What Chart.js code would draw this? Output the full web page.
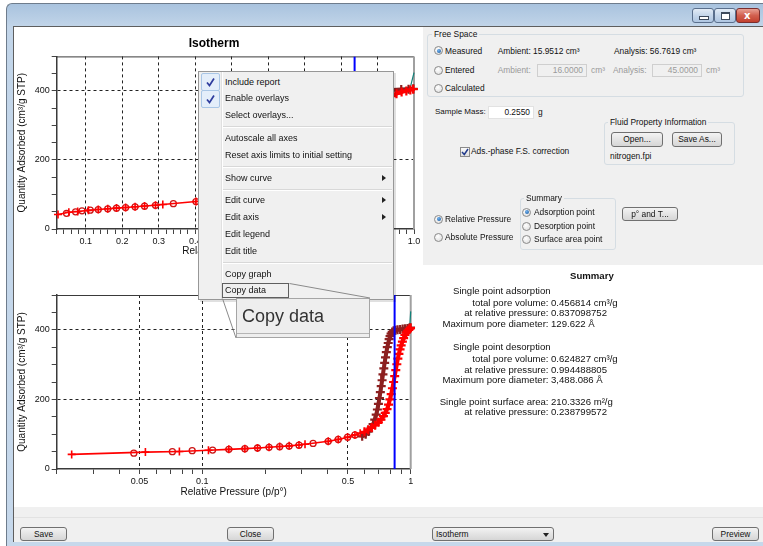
<!DOCTYPE html>
<html>
<head>
<meta charset="utf-8">
<script src="https://cdn.jsdelivr.net/npm/chart.js@4.4.1/dist/chart.umd.min.js"></script>
<style>
  html, body { margin: 0; padding: 0; width: 763px; height: 546px; overflow: hidden; background: #fff;
    font-family: "Liberation Sans", Arial, sans-serif; color: #111; }
  .a { position: absolute; }
  .t { position: absolute; white-space: nowrap; font-size: 8.4px; line-height: 10px; }
  .g { color: #9a9a9a; }
  .mi { position: absolute; left: 225px; white-space: nowrap; font-size: 9px; line-height: 12px; color: #111; }
  .sep { position: absolute; left: 223px; width: 169px; height: 1px; background: #d8d8d8; border-bottom: 1px solid #fff; }
  .arr { position: absolute; left: 382px; width: 0; height: 0; border-top: 3px solid transparent; border-bottom: 3px solid transparent; border-left: 4px solid #222; }
  .chk { position: absolute; left: 201px; width: 17px; height: 16px; border: 1px solid #a9c6e6; background: #e4eefa; border-radius: 2px; }
  .rad { position: absolute; width: 9px; height: 9px; border-radius: 50%; border: 1px solid #8a8a8a; box-sizing: border-box;
    background: radial-gradient(circle at 40% 35%, #ffffff, #d9d9d9); }
  .rad.on::after { content: ""; position: absolute; left: 1.5px; top: 1.5px; width: 4px; height: 4px; border-radius: 50%;
    background: radial-gradient(circle at 40% 35%, #6fb0ee, #15559a); }
  .grp { position: absolute; border: 1px solid #d5dde3; border-radius: 3px; }
  .btn { position: absolute; border: 1px solid #707070; border-radius: 3px; background: linear-gradient(#f3f3f3, #e4e4e4 50%, #d6d6d6);
    font-size: 8.4px; text-align: center; box-sizing: border-box; }
  .box { position: absolute; box-sizing: border-box; font-size: 8.4px; text-align: right; padding-right: 3px; }
  .s { position: absolute; white-space: nowrap; font-size: 9.6px; line-height: 11px; color: #111; }
  .sl { right: 214.5px; text-align: right; }
  .sv { left: 551px; }
  .wb { position: absolute; top: 8px; height: 13px; border: 1px solid #5a6f8c; border-radius: 3px;
    background: linear-gradient(#e3ecf6, #c5d6ea 50%, #aec6e1); }
</style>
</head>
<body>
<!-- window frame -->
<div class="a" style="left:6px;top:3px;width:757px;height:543px;background:linear-gradient(#a9c3de,#c2d5e9 23px,#c6d8eb);border-left:1px solid #6e7c8c;border-top:1px solid #6e7c8c;border-radius:6px 0 0 0;box-sizing:border-box"></div>
<div class="wb" style="left:692px;width:20px"><div class="a" style="left:6px;top:7px;width:8px;height:2px;background:#fff;border:1px solid #3d4a5c"></div></div>
<div class="wb" style="left:714px;width:20px"><div class="a" style="left:6px;top:3px;width:7px;height:5px;border:1px solid #3d4a5c;border-top-width:2px;background:#fff"></div></div>
<div class="wb" style="left:736px;width:22px;border-color:#7a2e2e;background:linear-gradient(#e8a093,#d2604f 50%,#c2402e)"><div class="a" style="left:7px;top:0px;color:#fff;font:bold 10px 'DejaVu Sans';line-height:13px">x</div></div>
<!-- client area -->
<div class="a" style="left:13px;top:26px;width:750px;height:516px;background:#fff;border-left:1px solid #5e5e5e;border-top:1px solid #5e5e5e;box-sizing:border-box"></div>

<canvas id="topChart" width="410" height="240" style="position:absolute;left:14px;top:27px"></canvas>
<canvas id="botChart" width="410" height="232" style="position:absolute;left:14px;top:275px"></canvas>

<!-- right panel -->
<div class="a" style="left:423px;top:27px;width:340px;height:238px;background:#f0f0f0"></div>
<div class="grp" style="left:427px;top:34px;width:315px;height:61px"></div>
<div class="t" style="left:432px;top:29px;background:#f0f0f0;padding:0 2px">Free Space</div>
<div class="rad on" style="left:434px;top:46px"></div><div class="t" style="left:445px;top:45.7px">Measured</div>
<div class="t" style="left:497.7px;top:45.7px">Ambient: 15.9512 cm³</div>
<div class="t" style="left:614px;top:45.7px">Analysis: 56.7619 cm³</div>
<div class="rad" style="left:434px;top:65.5px"></div><div class="t" style="left:445px;top:65.3px">Entered</div>
<div class="t g" style="left:497.7px;top:65.3px">Ambient:</div>
<div class="box g" style="left:537px;top:64px;width:50px;height:13px;border:1px solid #cfcfcf;line-height:11px">16.0000</div>
<div class="t g" style="left:591px;top:65.3px">cm³</div>
<div class="t g" style="left:613px;top:65.3px">Analysis:</div>
<div class="box g" style="left:652px;top:64px;width:50px;height:13px;border:1px solid #cfcfcf;line-height:11px">45.0000</div>
<div class="t g" style="left:706px;top:65.3px">cm³</div>
<div class="rad" style="left:434px;top:83.5px"></div><div class="t" style="left:445px;top:83.3px">Calculated</div>

<div class="t" style="left:435px;top:107.3px;font-size:8px">Sample Mass:</div>
<div class="box" style="left:488px;top:106px;width:46px;height:13px;background:#fff;border:1px solid #e2e2e2;line-height:11px">0.2550</div>
<div class="t" style="left:538px;top:107.3px">g</div>

<div class="grp" style="left:604px;top:122px;width:129px;height:41px"></div>
<div class="t" style="left:608px;top:117.3px;background:#f0f0f0;padding:0 2px">Fluid Property Information</div>
<div class="btn" style="left:611px;top:131.5px;width:52px;height:15px;line-height:13px">Open...</div>
<div class="btn" style="left:672px;top:131.5px;width:50px;height:15px;line-height:13px">Save As...</div>
<div class="t" style="left:610px;top:150.7px">nitrogen.fpi</div>

<div class="a" style="left:459.5px;top:146.5px;width:8px;height:8px;border:1px solid #8a8a8a;background:linear-gradient(#fafafa,#dedede)">
  <svg width="8" height="8" style="position:absolute;left:0;top:0"><path d="M1 4 L3.3 6.5 L7 1" stroke="#233c8c" stroke-width="1.5" fill="none"/></svg>
</div>
<div class="t" style="left:471px;top:146px">Ads.-phase F.S. correction</div>

<div class="grp" style="left:520px;top:198px;width:94px;height:50px"></div>
<div class="t" style="left:524px;top:192.7px;background:#f0f0f0;padding:0 2px">Summary</div>
<div class="rad on" style="left:522px;top:207.8px"></div><div class="t" style="left:534px;top:207.3px">Adsorption point</div>
<div class="rad" style="left:522px;top:221.5px"></div><div class="t" style="left:534px;top:221px">Desorption point</div>
<div class="rad" style="left:522px;top:234.8px"></div><div class="t" style="left:534px;top:234.3px">Surface area point</div>
<div class="btn" style="left:622px;top:206.5px;width:56px;height:14px;line-height:12px">p° and T...</div>
<div class="rad on" style="left:434px;top:214.5px"></div><div class="t" style="left:445px;top:214px">Relative Pressure</div>
<div class="rad" style="left:434px;top:232.8px"></div><div class="t" style="left:445px;top:232.3px">Absolute Pressure</div>

<!-- summary report -->
<div class="s" style="left:570px;top:269.5px;font-weight:bold">Summary</div>
<div class="s" style="left:453px;top:284.5px">Single point adsorption</div>
<div class="s sl" style="top:297.2px">total pore volume:</div><div class="s sv" style="top:297.2px">0.456814 cm³/g</div>
<div class="s sl" style="top:307.2px">at relative pressure:</div><div class="s sv" style="top:307.2px">0.837098752</div>
<div class="s sl" style="top:317.8px">Maximum pore diameter:</div><div class="s sv" style="top:317.8px">129.622 Å</div>
<div class="s" style="left:453px;top:341.2px">Single point desorption</div>
<div class="s sl" style="top:352.8px">total pore volume:</div><div class="s sv" style="top:352.8px">0.624827 cm³/g</div>
<div class="s sl" style="top:363.8px">at relative pressure:</div><div class="s sv" style="top:363.8px">0.994488805</div>
<div class="s sl" style="top:373.8px">Maximum pore diameter:</div><div class="s sv" style="top:373.8px">3,488.086 Å</div>
<div class="s sl" style="top:396.2px">Single point surface area:</div><div class="s sv" style="top:396.2px">210.3326 m²/g</div>
<div class="s sl" style="top:406.2px">at relative pressure:</div><div class="s sv" style="top:406.2px">0.238799572</div>

<!-- bottom bar -->
<div class="a" style="left:14px;top:507px;width:749px;height:35px;background:#f0f0f0"></div>
<div class="a" style="left:14px;top:517px;width:749px;height:1px;background:#e2e2e2"></div>
<div class="btn" style="left:20px;top:527px;width:47px;height:14px;line-height:12px">Save</div>
<div class="btn" style="left:227px;top:527px;width:47px;height:14px;line-height:12px">Close</div>
<div class="btn" style="left:432px;top:527px;width:122px;height:14px;line-height:12px;text-align:left;padding-left:3px">Isotherm
  <div class="a" style="left:110px;top:5px;border-left:3px solid transparent;border-right:3px solid transparent;border-top:4px solid #222"></div></div>
<div class="btn" style="left:712px;top:527px;width:47px;height:14px;line-height:12px">Preview</div>

<!-- context menu -->
<div class="a" style="left:200px;top:73px;width:196px;height:229px;background:rgba(0,0,0,0.12)"></div>
<div class="a" style="left:198px;top:71px;width:196px;height:229px;background:#f0f0f0;border:1px solid #979797;box-sizing:border-box"></div>
<div class="a" style="left:221px;top:72px;width:1px;height:227px;background:#e0e0e0;border-right:1px solid #fff"></div>
<div class="chk" style="top:73px"><svg width="17" height="16"><path d="M5 8.5 L7.5 11.5 L12 4.5" stroke="#2f3d9e" stroke-width="1.7" fill="none"/></svg></div>
<div class="chk" style="top:90px"><svg width="17" height="16"><path d="M5 8.5 L7.5 11.5 L12 4.5" stroke="#2f3d9e" stroke-width="1.7" fill="none"/></svg></div>
<div class="mi" style="top:75.7px">Include report</div>
<div class="mi" style="top:92.3px">Enable overlays</div>
<div class="mi" style="top:109px">Select overlays...</div>
<div class="sep" style="top:126px"></div>
<div class="mi" style="top:131.7px">Autoscale all axes</div>
<div class="mi" style="top:149px">Reset axis limits to initial setting</div>
<div class="sep" style="top:166px"></div>
<div class="mi" style="top:171.7px">Show curve</div><div class="arr" style="top:174.7px"></div>
<div class="sep" style="top:188.5px"></div>
<div class="mi" style="top:194.3px">Edit curve</div><div class="arr" style="top:197.3px"></div>
<div class="mi" style="top:210.7px">Edit axis</div><div class="arr" style="top:213.7px"></div>
<div class="mi" style="top:227.7px">Edit legend</div>
<div class="mi" style="top:244.7px">Edit title</div>
<div class="sep" style="top:261.5px"></div>
<div class="mi" style="top:267.7px">Copy graph</div>
<div class="mi" style="top:284.3px">Copy data</div>

<!-- magnifier callout -->
<div class="a" style="left:222px;top:283px;width:67px;height:15px;border:1px solid #5f5f5f;box-sizing:border-box"></div>
<div class="a" style="left:236px;top:298px;width:134px;height:40px;background:#eeeeee;border:1px solid #a5a5a5;box-sizing:border-box"></div>
<div class="a" style="left:237px;top:333px;width:132px;height:1px;background:#b5b5b5"></div>
<div class="a" style="left:242px;top:305px;font-size:18px;line-height:22px;color:#333;white-space:nowrap">Copy data</div>
<svg class="a" style="left:0;top:0" width="763" height="546">
  <path d="M289.5 283.5 L370 298 M222.5 298.5 L236 338" stroke="#8a8a8a" stroke-width="1" fill="none"/>
</svg>

<script>
const FONT = '"Liberation Sans", Arial, sans-serif';

// adsorption branch, red +
const adsP = [0.0236, 0.0533, 0.0776, 0.107, 0.134, 0.160, 0.184, 0.209, 0.235, 0.261, 0.291, 0.311,
  0.402, 0.449, 0.498, 0.540, 0.572, 0.600, 0.625, 0.650, 0.675, 0.700, 0.720, 0.740, 0.755, 0.770,
  0.783, 0.795, 0.806, 0.817, 0.828, 0.838, 0.848, 0.858, 0.868, 0.878, 0.889, 0.900, 0.912, 0.925,
  0.938, 0.952, 0.966, 0.979, 0.990, 0.998];
const adsQ = [42, 48.5, 50.5, 54, 56.5, 58.5, 60.5, 62.5, 64.5, 66.5, 69, 71,
  79.5, 85, 91.5, 98, 103, 107, 113, 119, 126, 134, 142, 152, 161, 172,
  185, 200, 215, 232, 250, 267, 284, 301, 317, 331, 344, 355, 366, 376,
  385, 392, 397, 400, 403, 405];
// open circles
const ptP = [0.0469, 0.0718, 0.0894, 0.112, 0.134, 0.160, 0.184, 0.209, 0.235, 0.261, 0.291, 0.340,
  0.402, 0.449, 0.498, 0.540];
const ptQ = [45.5, 49.8, 52.6, 54.5, 56.4, 58.4, 60.3, 62.2, 64.1, 66.0, 68.5, 73.5,
  79.5, 85, 91.5, 98];
// desorption branch, dark red +
const desP = [0.998, 0.985, 0.965, 0.940, 0.915, 0.890, 0.865, 0.845, 0.828, 0.815, 0.805, 0.796,
  0.788, 0.780, 0.772, 0.764, 0.757, 0.750, 0.743, 0.736, 0.729, 0.722, 0.715, 0.708, 0.700, 0.692,
  0.683, 0.672, 0.660, 0.645, 0.628, 0.608, 0.585];
const desQ = [406, 405, 404, 403, 402, 401, 400, 399, 397, 394, 389, 382,
  373, 362, 350, 336, 321, 305, 289, 272, 255, 238, 221, 204, 187, 171,
  156, 142, 129, 118, 108, 100, 94];
// overlay curve, teal
const ovP = [1.0, 0.99, 0.96, 0.92, 0.88, 0.84, 0.815, 0.802, 0.795, 0.788];
const ovQ = [453, 411, 405, 403, 401, 399, 398, 396, 388, 376];
// single point marker
const spP = 0.837099;
const spQ = [0, 500];

// axes
const yTicks = [0, 50, 100, 150, 200, 250, 300, 350, 400, 450, 500];
const yLabels = [0, 200, 400];
const yGrid = [200, 400];
const logTicks = [0.02, 0.03, 0.04, 0.05, 0.06, 0.07, 0.08, 0.09, 0.1, 0.2, 0.3, 0.4, 0.5, 0.6, 0.7, 0.8, 0.9, 1];
const logLabels = [0.05, 0.1, 0.5, 1];
const logGrid = [0.05, 0.1, 0.5];
const linTicks = [];
for (let k = 1; k <= 50; k++) linTicks.push(k / 50);
const isTenth = v => Math.abs(v * 10 - Math.round(v * 10)) < 1e-9;

const xy = (px, qy) => px.map((p, i) => ({ x: p, y: qy[i] }));

// the hysteresis loop is drawn heavier, where overlays pile up in the original
const HYST = 0.58;
const heavyLine = c => (c.p0.parsed.x > HYST ? 4 : 1.6);
const heavyPt = c => (c.parsed && c.parsed.x > HYST ? 4.5 : 4);
const heavyPtW = c => (c.parsed && c.parsed.x > HYST ? 2.2 : 1.6);

const datasets = () => [
  { data: spQ.map(q => ({ x: spP, y: q })), borderColor: '#0000ff', borderWidth: 2, pointRadius: 0, showLine: true },
  { data: xy(adsP, adsQ), borderColor: '#ff0000', borderWidth: 1.6, pointStyle: 'cross', pointRadius: heavyPt,
    pointBorderWidth: heavyPtW, showLine: true, clip: false, segment: { borderWidth: heavyLine } },
  { data: xy(ptP, ptQ), borderColor: '#cc1414', backgroundColor: 'transparent', pointStyle: 'circle', pointRadius: 3,
    pointBorderWidth: 1.3, showLine: false, clip: false },
  { data: xy(desP, desQ), borderColor: '#8c2020', borderWidth: 1.6, pointStyle: 'cross', pointRadius: heavyPt,
    pointBorderWidth: heavyPtW, showLine: true, clip: false, segment: { borderWidth: heavyLine } },
  { data: xy(ovP, ovQ), borderColor: '#12827a', borderWidth: 1.2, pointRadius: 0, showLine: true, clip: false },
];

// top and right edges of the plot box
const frame = {
  id: 'frame',
  beforeDatasetsDraw(chart) {
    const { ctx, chartArea: a } = chart;
    ctx.save();
    ctx.strokeStyle = '#3a3a3a';
    ctx.lineWidth = 1;
    ctx.beginPath();
    ctx.moveTo(a.left, a.top + 0.5);
    ctx.lineTo(a.right, a.top + 0.5);
    ctx.stroke();
    ctx.strokeStyle = '#a0a0a0';
    ctx.lineWidth = 2;
    ctx.beginPath();
    ctx.moveTo(a.right, a.top);
    ctx.lineTo(a.right, a.bottom);
    ctx.stroke();
    ctx.restore();
  },
};

const tickFont = { family: FONT, size: 9 };
const titleFont = { family: FONT, size: 10 };

const yScale = () => ({
  type: 'linear', min: 0, max: 500,
  afterBuildTicks: s => { s.ticks = yTicks.map(v => ({ value: v })); },
  afterFit: s => { s.width = 42.7; },
  ticks: { autoSkip: false, font: tickFont, color: '#111', padding: 2,
    callback: v => (yLabels.includes(v) ? String(v) : '') },
  grid: { color: c => (c.tick && yGrid.includes(c.tick.value) ? '#222' : 'transparent'),
    tickColor: '#444', tickLength: 5, tickBorderDash: [], lineWidth: 1 },
  border: { color: '#3a3a3a', width: 1.5, dash: [3, 3] },
  title: { display: true, text: 'Quantity Adsorbed (cm³/g STP)', font: titleFont, color: '#111', padding: { top: 2, bottom: 0 } },
});

const xCommon = (titlePad) => ({
  afterFit: s => { s.height = 38; },
  border: { color: '#3a3a3a', width: 1.5, dash: [3, 3] },
  title: { display: true, text: 'Relative Pressure (p/p°)', font: titleFont, color: '#111', padding: { top: 0, bottom: titlePad } },
});

const linX = Object.assign(xCommon(10), {
  type: 'linear', min: 0.02, max: 1.0,
  afterBuildTicks: s => { s.ticks = linTicks.map(v => ({ value: v })); },
  ticks: { autoSkip: false, maxRotation: 0, font: tickFont, color: '#111', padding: 2,
    callback: v => (isTenth(v) ? v.toFixed(1) : '') },
  grid: { color: c => (c.tick && isTenth(c.tick.value) && c.tick.value < 0.999 ? '#222' : 'transparent'),
    tickColor: '#444', tickLength: 5, tickBorderDash: [], lineWidth: 1 },
});

const logX = Object.assign(xCommon(9), {
  type: 'logarithmic', min: 0.02, max: 1,
  afterBuildTicks: s => { s.ticks = logTicks.map(v => ({ value: v })); },
  ticks: { autoSkip: false, maxRotation: 0, font: tickFont, color: '#111', padding: 2,
    callback: v => (logLabels.includes(v) ? String(v) : '') },
  grid: { color: c => (c.tick && logGrid.includes(c.tick.value) ? '#222' : 'transparent'),
    tickColor: '#444', tickLength: 5, tickBorderDash: [], lineWidth: 1 },
});

const makeChart = (id, xScale, pad, showTitle) => new Chart(document.getElementById(id), {
  type: 'scatter',
  data: { datasets: datasets() },
  plugins: [frame],
  options: {
    responsive: false, animation: false, devicePixelRatio: 1, events: [],
    layout: { padding: pad },
    plugins: {
      legend: { display: false },
      tooltip: { enabled: false },
      title: { display: showTitle, text: 'Isotherm', color: '#000',
        font: { family: FONT, size: 12, weight: 'bold' }, padding: { top: 9, bottom: 6 } },
    },
    scales: { x: xScale, y: yScale() },
  },
});

makeChart('topChart', linX, { top: 0, right: 10, left: 0, bottom: 0 }, true);
makeChart('botChart', logX, { top: 20, right: 13.3, left: 0, bottom: 0 }, false);
</script>
</body>
</html>
